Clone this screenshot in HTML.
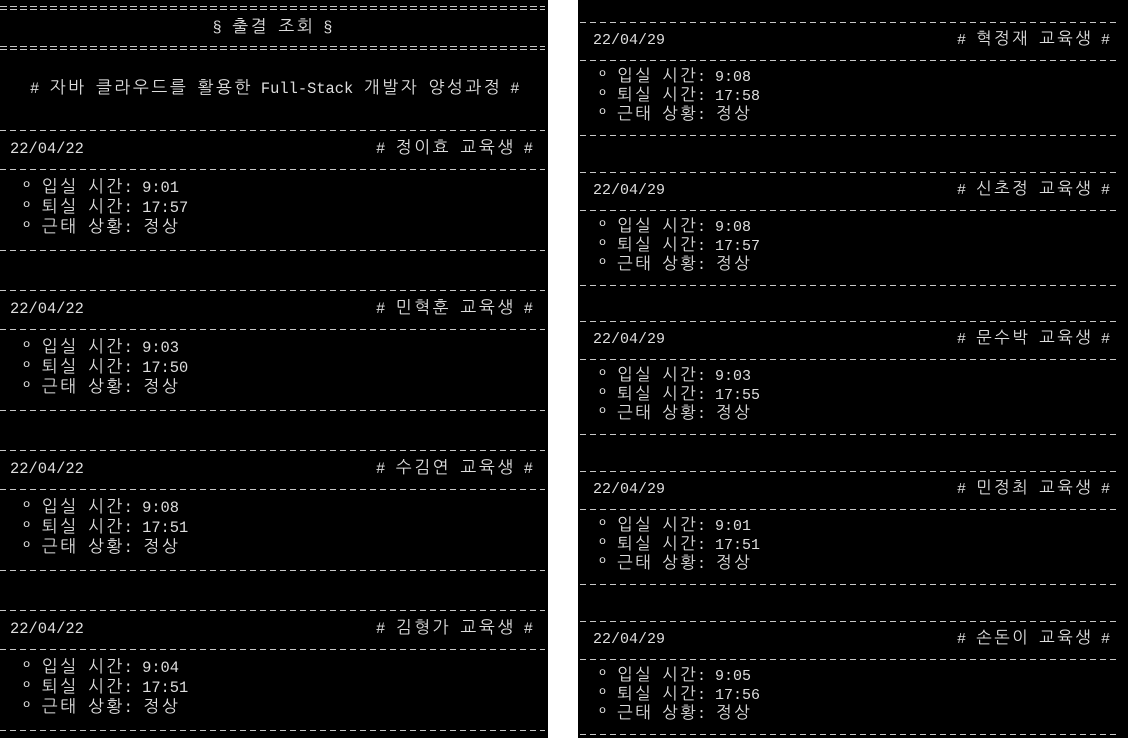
<!DOCTYPE html>
<html><head><meta charset="utf-8">
<style>
html,body{margin:0;padding:0;background:#fff;}
body{width:1128px;height:738px;position:relative;overflow:hidden;font-family:"Liberation Mono","NanumGothic","Noto Sans CJK KR",monospace;color:#dedede;}
.panel{position:absolute;top:0;height:738px;background:#000;}
.t{position:absolute;white-space:pre;height:20px;line-height:20px;}
.k{display:inline-block;width:1.091em;text-align:center;font-size:1.1em;line-height:1;vertical-align:baseline;}
.dash{position:absolute;height:1px;background:repeating-linear-gradient(90deg,#c8c8c8 0 6px,transparent 6px 10px);}
.eq{position:absolute;height:4px;border:0;background:repeating-linear-gradient(90deg,#c8c8c8 0 7px,transparent 7px 10px);}
.eq::after{content:"";position:absolute;left:0;right:0;top:1px;height:2px;background:#000;}
</style></head><body>
<div class="panel" id="left" style="left:0;width:548px;font-size:15.4px;"></div>
<div class="panel" id="right" style="left:578px;width:550px;font-size:15px;"></div>
<script>
const leftDate = "22/04/22";
const rightDate = "22/04/29";
const leftNames = ["정이효","민혁훈","수김연","김형가"];
const leftIn = ["9:01","9:03","9:08","9:04"];
const leftOut = ["17:57","17:50","17:51","17:51"];
const rightNames = ["혁정재","신초정","문수박","민정최","손돈이"];
const rightIn = ["9:08","9:08","9:03","9:01","9:05"];
const rightOut = ["17:58","17:57","17:55","17:51","17:56"];

function fill(d,s){
  let buf='';
  for(const ch of s){
    if(/[\uAC00-\uD7A3]/.test(ch)){
      if(buf){d.appendChild(document.createTextNode(buf));buf='';}
      const sp=document.createElement('span');sp.className='k';sp.textContent=ch;d.appendChild(sp);
    } else buf+=ch;
  }
  if(buf) d.appendChild(document.createTextNode(buf));
}
function txt(p,x,y,s,name,align,w){
  const d=document.createElement('div');
  d.className='t';
  
  
  fill(d,s);
  if(align==='right'){d.style.right=x+'px';}
  else if(align==='center'){d.style.left='0';d.style.width=w+'px';d.style.textAlign='center';}
  else d.style.left=x+'px';
  d.style.top=(y-10)+'px';
  p.appendChild(d);
}
function line(p,cls,x,w,y,name){
  const d=document.createElement('div');
  d.className=cls;
  
  
  d.style.left=x+'px';d.style.width=w+'px';d.style.top=y+'px';
  p.appendChild(d);
}
const L=document.getElementById('left');
line(L,'eq',0,545,6,'top-double-rule');
txt(L,0,28,"§ 출결 조회 §",'page-title','center',545);
line(L,'eq',0,545,46,'title-double-rule');
txt(L,30,89,"# 자바 클라우드를 활용한 Full-Stack 개발자 양성과정 #",'course-title');
line(L,'dash',0,545,130,'rule');
for(let i=0;i<leftNames.length;i++){
  const b=149+i*160;
  if(i>0) line(L,'dash',0,545,b-19,'rule');
  txt(L,10,b,leftDate,'record-date');
  txt(L,15,b,"# "+leftNames[i]+" 교육생 #",'student-name','right');
  line(L,'dash',0,545,b+20,'rule');
  txt(L,22,b+39,"º 입실 시간: "+leftIn[i],'check-in-time');
  txt(L,22,b+59,"º 퇴실 시간: "+leftOut[i],'check-out-time');
  txt(L,22,b+79,"º 근태 상황: 정상",'attendance-status');
  line(L,'dash',0,545,b+101,'rule');
}
const R=document.getElementById('right');
for(let i=0;i<rightNames.length;i++){
  const b=41+i*149.7;
  line(R,'dash',2,540,Math.round(b-19),'rule');
  txt(R,15,b,rightDate,'record-date');
  txt(R,18,b,"# "+rightNames[i]+" 교육생 #",'student-name','right');
  line(R,'dash',2,540,Math.round(b+19),'rule');
  txt(R,20,b+37,"º 입실 시간: "+rightIn[i],'check-in-time');
  txt(R,20,b+56,"º 퇴실 시간: "+rightOut[i],'check-out-time');
  txt(R,20,b+75,"º 근태 상황: 정상",'attendance-status');
  line(R,'dash',2,540,Math.round(b+94),'rule');
}
</script>
</body></html>
